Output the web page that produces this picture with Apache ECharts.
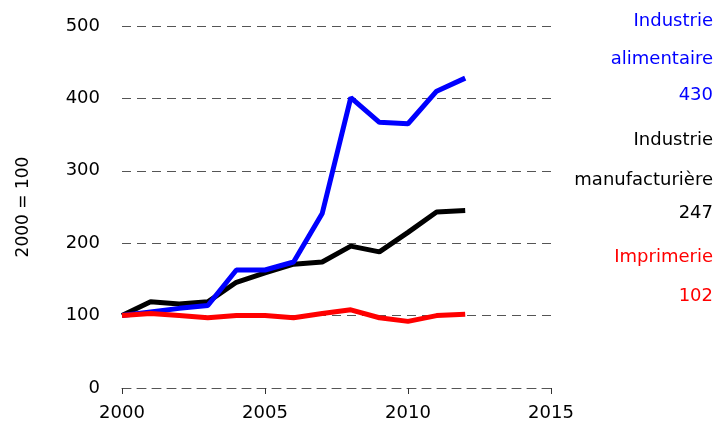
<!DOCTYPE html>
<html>
<head>
<meta charset="utf-8">
<script src="https://cdn.jsdelivr.net/npm/echarts@6/dist/echarts.min.js"></script>
<style>html,body{margin:0;padding:0;background:#fff}#c{width:718px;height:439px}</style>
</head>
<body>
<div id="c"></div>
<script>
const years = [2000,2001,2002,2003,2004,2005,2006,2007,2008,2009,2010,2011,2012];
const alimentaire = [100,105,110,114,163,163,174,241,401,367,365,410,428];
const manufacturiere = [100,119,116,119,146,159,171,174,196,188,215,243,245];
const imprimerie = [100,103,100,97,100,100,97,103,108,97,92,100,102];
const yTicks = [0,100,200,300,400,500];
const xTicks = [2000,2005,2010,2015];
const labels = [
  {text:'Industrie', color:'#0000ff', y:22},
  {text:'alimentaire', color:'#0000ff', y:60},
  {text:'430', color:'#0000ff', y:96},
  {text:'Industrie', color:'#000000', y:141},
  {text:'manufacturière', color:'#000000', y:181},
  {text:'247', color:'#000000', y:214},
  {text:'Imprimerie', color:'#ff0000', y:258},
  {text:'102', color:'#ff0000', y:297}
];
const pairs = v => years.map((y,i)=>[y,v[i]]);
const chart = echarts.init(document.getElementById('c'));
const FONT = 'DejaVu Sans';
const dash = {color:'#555',width:1,type:[9,6]};
chart.setOption({
  animation:false,
  grid:{left:122,right:167,top:26,bottom:51,containLabel:false},
  xAxis:{type:'value',min:xTicks[0],max:xTicks[xTicks.length-1],interval:5,
    axisLine:{show:true,lineStyle:dash},
    axisTick:{show:true,length:6,lineStyle:{color:'#333',width:1}},
    splitLine:{show:false},
    axisLabel:{fontFamily:FONT,fontSize:18,color:'#000',margin:16,formatter:v=>String(v)}},
  yAxis:{type:'value',min:yTicks[0],max:yTicks[yTicks.length-1],interval:100,
    name:'2000 = 100',nameLocation:'middle',nameGap:90,nameRotate:90,
    nameTextStyle:{fontFamily:FONT,fontSize:17,color:'#000'},
    axisLine:{show:false},axisTick:{show:false},
    axisLabel:{fontFamily:FONT,fontSize:18,color:'#000',margin:22},
    splitLine:{show:true,lineStyle:dash}},
  series:[
    {type:'line',data:pairs(manufacturiere),showSymbol:false,lineStyle:{color:'#000',width:5},z:2},
    {type:'line',data:pairs(alimentaire),showSymbol:false,lineStyle:{color:'#0000ff',width:5},z:3},
    {type:'line',data:pairs(imprimerie),showSymbol:false,lineStyle:{color:'#ff0000',width:5},z:4}
  ],
  graphic: labels.map(l=>({type:'text',right:5,top:l.y-10,style:{text:l.text,fill:l.color,font:'18px "DejaVu Sans"'}}))
});
</script>
</body>
</html>
